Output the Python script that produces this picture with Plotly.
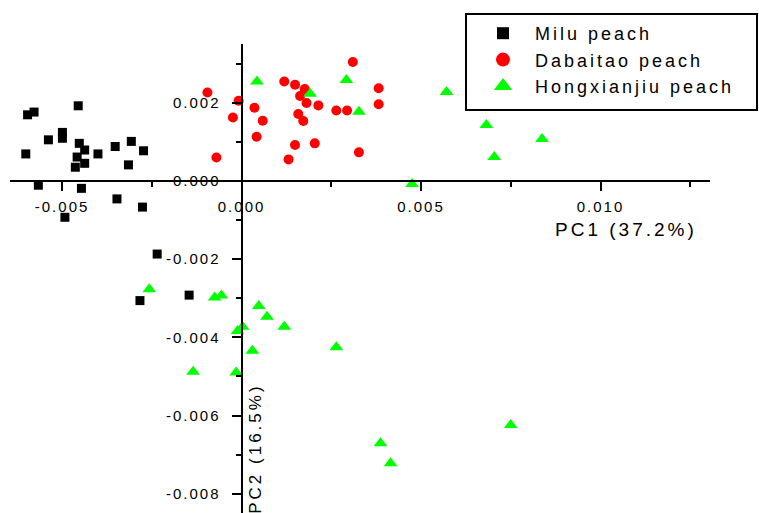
import plotly.graph_objects as go

# PCA scores (PC1, PC2) for the three peach cultivars
milu_pc1 = [-0.00601, -0.00596, -0.00578, -0.00455, -0.00538, -0.00499, -0.00499,
            -0.00452, -0.00437, -0.00458, -0.00437, -0.00463, -0.00400, -0.00352,
            -0.00307, -0.00273, -0.00315, -0.00566, -0.00446, -0.00347, -0.00276,
            -0.00492, -0.00235, -0.00146, -0.00283]
milu_pc2 = [0.00069, 0.00169, 0.00176, 0.00192, 0.00105, 0.00124, 0.00109,
            0.00096, 0.00079, 0.00061, 0.00045, 0.00035, 0.00069, 0.00088,
            0.00101, 0.00077, 0.00041, -0.00011, -0.00019, -0.00046, -0.00067,
            -0.00093, -0.00187, -0.00292, -0.00306]

dabaitao_pc1 = [0.00310, 0.00119, 0.00149, 0.00176, 0.00163, 0.00181, 0.00214,
                -0.00008, 0.00036, -0.00024, 0.00059, 0.00158, 0.00172, 0.00042,
                0.00149, 0.00204, 0.00131, 0.00327, 0.00264, 0.00294, 0.00382,
                0.00382, -0.00095, -0.00070]
dabaitao_pc2 = [0.00304, 0.00254, 0.00246, 0.00235, 0.00217, 0.00199, 0.00193,
                0.00205, 0.00187, 0.00162, 0.00154, 0.00171, 0.00153, 0.00113,
                0.00092, 0.00096, 0.00055, 0.00073, 0.00180, 0.00180, 0.00237,
                0.00196, 0.00226, 0.00060]

hongxianjiu_pc1 = [0.00043, 0.00292, 0.00191, 0.00327, 0.00571, 0.00475, 0.00682,
                   0.00837, 0.00704, -0.00257, -0.00075, -0.00056, 0.00048, 0.00071,
                   0.00119, -0.00011, 0.00003, 0.00030, 0.00264, -0.00135, -0.00015,
                   0.00387, 0.00415, 0.00750]
hongxianjiu_pc2 = [0.00254, 0.00258, 0.00223, 0.00177, 0.00227, -0.00008, 0.00143,
                   0.00107, 0.00061, -0.00277, -0.00298, -0.00293, -0.00320, -0.00347,
                   -0.00373, -0.00384, -0.00373, -0.00434, -0.00425, -0.00488, -0.00490,
                   -0.00671, -0.00722, -0.00624]

series_names = ["Milu peach", "Dabaitao peach", "Hongxianjiu peach"]

x_tickvals = [-0.005, 0.0, 0.005, 0.010]
x_ticktext = ["-0.005", "0.000", "0.005", "0.010"]
y_tickvals = [0.002, 0.0, -0.002, -0.004, -0.006, -0.008]
y_ticktext = ["0.002", "0.000", "-0.002", "-0.004", "-0.006", "-0.008"]

x_title = "PC1 (37.2%)"
y_title = "PC2 (16.5%)"

# ---- layout geometry ----
W, H = 759, 513
ML, MR, MT, MB = 10, 49, 44, 0
PW, PH = W - ML - MR, H - MT - MB
X_RANGE = [-0.00645, 0.01305]
Y_RANGE = [-0.00849, 0.0035]

FONT = "Liberation Sans, Arial, sans-serif"


def spaced(text, px):
    return f'<span style="letter-spacing:{px}px">{text}</span>'


def px_to_paper_x(px):
    return (px - ML) / PW


def px_to_paper_y(py):
    return 1 - (py - MT) / PH


# fractional positions where the axes cross the origin
x_axis_pos = (0 - Y_RANGE[0]) / (Y_RANGE[1] - Y_RANGE[0])
y_axis_pos = (0 - X_RANGE[0]) / (X_RANGE[1] - X_RANGE[0])

styles = [
    dict(symbol="square", size=9, legend_size=12, color="#000000"),
    dict(symbol="circle", size=10, legend_size=14, color="#FF0000"),
    dict(symbol="triangle-up", size=12, legend_size=16, color="#00FF00"),
]
data = [
    (milu_pc1, milu_pc2),
    (dabaitao_pc1, dabaitao_pc2),
    (hongxianjiu_pc1, hongxianjiu_pc2),
]

fig = go.Figure()

for name, (xs, ys), st in zip(series_names, data, styles):
    fig.add_trace(go.Scatter(
        x=xs, y=ys, mode="markers", name=name, showlegend=False,
        legendgroup=name,
        marker=dict(symbol=st["symbol"], size=st["size"], color=st["color"],
                    line=dict(width=0)),
    ))

# legend entries with the larger key symbols
for name, st in zip(series_names, styles):
    fig.add_trace(go.Scatter(
        x=[None], y=[None], mode="markers", name=spaced(name, 3),
        legendgroup=name, showlegend=True,
        marker=dict(symbol=st["symbol"], size=st["legend_size"], color=st["color"],
                    line=dict(width=0)),
    ))

axis_common = dict(
    showgrid=False, zeroline=False, showline=True, linecolor="#000000", linewidth=2,
    ticks="outside", ticklen=9, tickwidth=2, tickcolor="#000000",
    tickfont=dict(family=FONT, size=15, color="#000000"),
    anchor="free", tickmode="array",
)

fig.update_layout(
    width=W, height=H,
    margin=dict(l=ML, r=MR, t=MT, b=MB, pad=0),
    paper_bgcolor="#FFFFFF", plot_bgcolor="#FFFFFF",
    showlegend=True,
    xaxis=dict(
        axis_common, range=X_RANGE, position=x_axis_pos,
        tickvals=x_tickvals, ticktext=[spaced(t, 2) for t in x_ticktext],
        minor=dict(dtick=0.0025, tick0=0, ticks="outside", ticklen=5, tickwidth=2,
                   tickcolor="#000000", showgrid=False),
        ticklabelstandoff=3,
    ),
    yaxis=dict(
        axis_common, range=Y_RANGE, position=y_axis_pos,
        tickvals=y_tickvals, ticktext=[spaced(t, 2) for t in y_ticktext],
        minor=dict(dtick=0.001, tick0=0, ticks="outside", ticklen=5, tickwidth=2,
                   tickcolor="#000000", showgrid=False),
        ticklabelstandoff=8,
    ),
    legend=dict(
        x=px_to_paper_x(471), y=px_to_paper_y(15),
        xanchor="left", yanchor="top",
        bgcolor="rgba(0,0,0,0)", borderwidth=0,
        font=dict(family=FONT, size=18, color="#000000"),
        itemwidth=54, tracegroupgap=0,
    ),
    shapes=[
        # legend frame
        dict(type="rect", xref="paper", yref="paper",
             x0=px_to_paper_x(466), x1=px_to_paper_x(757),
             y0=px_to_paper_y(110), y1=px_to_paper_y(14),
             line=dict(color="#000000", width=2), fillcolor="#FFFFFF",
             layer="below"),
    ],
    annotations=[
        dict(text=spaced(x_title, 3), x=0.0107, y=-0.00125, xref="x", yref="y",
             showarrow=False, xanchor="center", yanchor="middle",
             font=dict(family=FONT, size=19, color="#000000")),
        dict(text=spaced(y_title, 3), x=0.00040, y=-0.00685, xref="x", yref="y",
             showarrow=False, xanchor="center", yanchor="middle", textangle=-90,
             font=dict(family=FONT, size=17, color="#000000")),
    ],
)

fig.write_html("out.html")
